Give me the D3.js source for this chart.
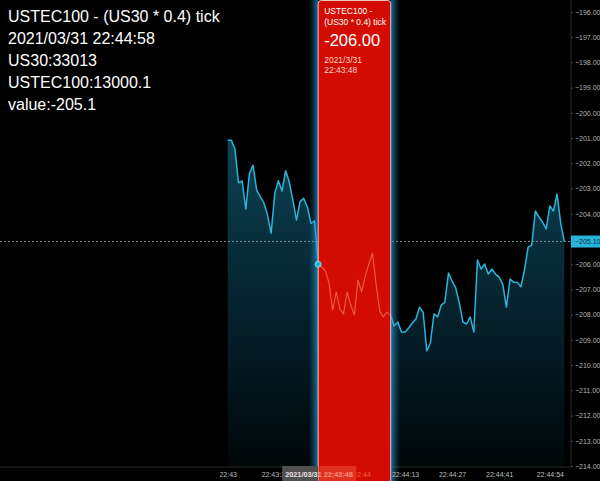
<!DOCTYPE html>
<html><head><meta charset="utf-8">
<script src="https://cdn.jsdelivr.net/npm/d3@7"></script>
<style>html,body{margin:0;padding:0;background:#000;overflow:hidden}svg{display:block}</style>
</head><body>
<svg id="chart" width="600" height="481"></svg>
<script>
// ---- data ----
const values = [
 -201.08,-201.08,-201.43,-202.77,-202.70,-203.81,-202.40,-202.07,-203.06,-203.32,
 -203.57,-204.05,-204.77,-203.19,-202.69,-203.10,-202.29,-202.73,-203.45,-204.25,
 -203.52,-203.39,-203.72,-204.38,-204.28,-206.00,-206.11,-206.27,-206.75,-207.82,
 -207.10,-207.78,-207.97,-207.10,-207.62,-208.01,-206.63,-207.10,-206.47,-205.99,
 -205.56,-206.79,-207.86,-208.09,-207.90,-208.01,-208.45,-208.29,-208.69,-208.69,
 -208.53,-208.33,-208.17,-207.70,-207.90,-209.44,-209.12,-207.97,-208.09,-207.62,
 -207.50,-206.35,-206.67,-206.94,-207.54,-208.29,-208.37,-208.09,-208.69,-205.83,
 -206.19,-205.99,-206.39,-206.19,-206.39,-206.51,-206.79,-207.70,-206.59,-206.71,
 -206.71,-206.90,-206.23,-205.32,-205.24,-203.89,-204.13,-204.33,-204.60,-203.69,
 -203.89,-203.22,-204.37,-205.10
];
const xTickIndex = [0, 13, 37, 49, 62, 75, 89];
const xTickLabels = ["22:43","22:43:14","22:44","22:44:13","22:44:27","22:44:41","22:44:54"];
const yTicks = [-196,-197,-198,-199,-200,-201,-202,-203,-204,-206,-207,-208,-209,-210,-211,-212,-213,-214];
const lastValue = -205.10;
const crossIndex = 25;
const infoLines = ["USTEC100 - (US30 * 0.4) tick","2021/03/31 22:44:58","US30:33013","USTEC100:13000.1","value:-205.1"];
const tipTitle = ["USTEC100 -","(US30 * 0.4) tick"];
const tipValue = "-206.00";
const tipTime = ["2021/3/31","22:43:48"];
const crossLabel = "2021/03/31 22:43:48";

// ---- layout ----
const W = 600, H = 481;
const plotRight = 571, plotBottom = 467;
const svg = d3.select("#chart");
const x = d3.scaleLinear().domain([0, values.length - 1]).range([227.7, 564.3]);
const y = d3.scaleLinear().domain([-214, -196]).range([466, 12]);
const FONT = "'Liberation Sans', Arial, sans-serif";
const bx = x(crossIndex), bw = 72.5;

const defs = svg.append("defs");
const ag = defs.append("linearGradient").attr("id","areaGrad")
  .attr("gradientUnits","userSpaceOnUse").attr("x1",0).attr("x2",0).attr("y1",140).attr("y2",plotBottom);
ag.append("stop").attr("offset",0).attr("stop-color","#0d4253");
ag.append("stop").attr("offset",0.45).attr("stop-color","#062632");
ag.append("stop").attr("offset",1).attr("stop-color","#010608");
const gl = defs.append("linearGradient").attr("id","glowL").attr("x1",0).attr("x2",1).attr("y1",0).attr("y2",0);
gl.append("stop").attr("offset",0).attr("stop-color","#1a8fd0").attr("stop-opacity",0);
gl.append("stop").attr("offset",1).attr("stop-color","#2aa6e6").attr("stop-opacity",0.65);
const gr = defs.append("linearGradient").attr("id","glowR").attr("x1",0).attr("x2",1).attr("y1",0).attr("y2",0);
gr.append("stop").attr("offset",0).attr("stop-color","#2aa6e6").attr("stop-opacity",0.65);
gr.append("stop").attr("offset",1).attr("stop-color","#1a8fd0").attr("stop-opacity",0);
// two-tone fill for crosshair label text (grey box part / band part)
const tg = defs.append("linearGradient").attr("id","crossTextGrad")
  .attr("gradientUnits","userSpaceOnUse").attr("x1",bx).attr("x2",bx+1).attr("y1",0).attr("y2",0);
tg.append("stop").attr("offset",0).attr("stop-color","#e8e8e8");
tg.append("stop").attr("offset",0.5).attr("stop-color","#e8e8e8");
tg.append("stop").attr("offset",0.5).attr("stop-color","#f7907a");
tg.append("stop").attr("offset",1).attr("stop-color","#f7907a");
defs.append("clipPath").attr("id","bandClip").append("rect")
  .attr("x", bx + 1).attr("y", 0).attr("width", bw - 2).attr("height", H);

svg.append("rect").attr("width",W).attr("height",H).attr("fill","#000");

// area
const area = d3.area().x((d,i)=>x(i)).y0(plotBottom).y1(d=>y(d));
svg.append("path").datum(values).attr("d", area).attr("fill","url(#areaGrad)");

// frame lines
svg.append("line").attr("x1",0).attr("x2",plotRight).attr("y1",plotBottom).attr("y2",plotBottom)
  .attr("stroke","#2a2a2a");
svg.append("line").attr("x1",plotRight).attr("x2",plotRight).attr("y1",0).attr("y2",plotBottom)
  .attr("stroke","#2a2a2a");

// last value dotted line
svg.append("line").attr("x1",0).attr("x2",plotRight).attr("y1",y(lastValue)).attr("y2",y(lastValue))
  .attr("stroke","#7a8a90").attr("stroke-dasharray","2,2").attr("stroke-width",1);

const line = d3.line().x((d,i)=>x(i)).y(d=>y(d));
function drawLine(g, color, width){
  g.append("path").datum(values).attr("d", line).attr("fill","none")
   .attr("stroke", color).attr("stroke-width", width).attr("stroke-linejoin","round");
}
drawLine(svg, "#2ab4dc", 1.5);

// y axis
const yAxis = d3.axisRight(y).tickValues(yTicks).tickFormat(d3.format(".2f")).tickSize(2).tickPadding(2);
const yg = svg.append("g").attr("transform",`translate(${plotRight},0)`).call(yAxis);
yg.select(".domain").remove();
yg.selectAll(".tick line").attr("stroke","#444");
yg.selectAll(".tick text").attr("fill","#b4b4b4").style("font-family",FONT).style("font-size","7px");

// last value label
svg.append("rect").attr("x",plotRight).attr("y",y(lastValue)-6).attr("width",W-plotRight).attr("height",12)
  .attr("fill","#27b3dc");
svg.append("text").attr("x",plotRight+4).attr("y",y(lastValue)).attr("dy","0.35em")
  .attr("fill","#06313f").style("font-family",FONT).style("font-size","7px").text(d3.format(".2f")(lastValue));

// glow + band
svg.append("rect").attr("x",bx-9).attr("y",0).attr("width",9).attr("height",H).attr("fill","url(#glowL)");
svg.append("rect").attr("x",bx+bw).attr("y",0).attr("width",9).attr("height",H).attr("fill","url(#glowR)");
svg.append("rect").attr("x",bx).attr("y",0.5).attr("width",bw).attr("height",H+10).attr("rx",3)
  .attr("fill","#d20c00").attr("stroke","#f0c4bc").attr("stroke-width",1);

// line seen through band
const ghost = svg.append("g").attr("clip-path","url(#bandClip)");
drawLine(ghost, "#ea5a3c", 1.2);

// x axis (labels inside band shown in red tint)
const xAxis = d3.axisBottom(x).tickValues(xTickIndex).tickFormat((d,i)=>xTickLabels[i]).tickSize(0).tickPadding(5);
const xg = svg.append("g").attr("transform",`translate(0,${plotBottom})`).call(xAxis);
xg.select(".domain").remove();
xg.selectAll(".tick text")
  .attr("fill", d => (x(d) > bx && x(d) < bx + bw) ? "#f0603f" : "#bdbdbd")
  .style("font-family",FONT).style("font-size","7px");

// crosshair time box
const cbx = bx - 36, cbw = 74;
svg.append("rect").attr("x",cbx).attr("y",plotBottom-1).attr("width",bx-cbx).attr("height",H-plotBottom+1)
  .attr("fill","#505050");
svg.append("rect").attr("x",bx+1).attr("y",plotBottom-1).attr("width",cbx+cbw-bx-1).attr("height",H-plotBottom+1)
  .attr("fill","#e2301f");
svg.append("text").attr("x",cbx+3).attr("y",476.5).attr("fill","url(#crossTextGrad)")
  .style("font-family",FONT).style("font-size","7.3px").style("font-weight","bold").text(crossLabel);

// crosshair dot
svg.append("circle").attr("cx",x(crossIndex)).attr("cy",y(values[crossIndex])).attr("r",3)
  .attr("fill","#2ab4dc").attr("stroke","#8fe0f5").attr("stroke-width",0.8);

// tooltip text
const tip = svg.append("g").style("font-family",FONT);
tip.selectAll("text.t").data(tipTitle).join("text").attr("class","t")
  .attr("x",bx+6).attr("y",(d,i)=>14+i*11).attr("fill","#ffffff").style("font-size","8.5px").text(d=>d);
tip.append("text").attr("x",bx+6).attr("y",45.5).attr("fill","#ffffff").style("font-size","16.5px").text(tipValue);
tip.selectAll("text.d").data(tipTime).join("text").attr("class","d")
  .attr("x",bx+6).attr("y",(d,i)=>63+i*10).attr("fill","#f8cfc8").style("font-size","8.5px").text(d=>d);

// info text
svg.append("g").selectAll("text").data(infoLines).join("text")
  .attr("x",8).attr("y",(d,i)=>21.5+i*22).attr("fill","#ffffff")
  .style("font-family",FONT).style("font-size","16px").text(d=>d);
</script>
</body></html>
